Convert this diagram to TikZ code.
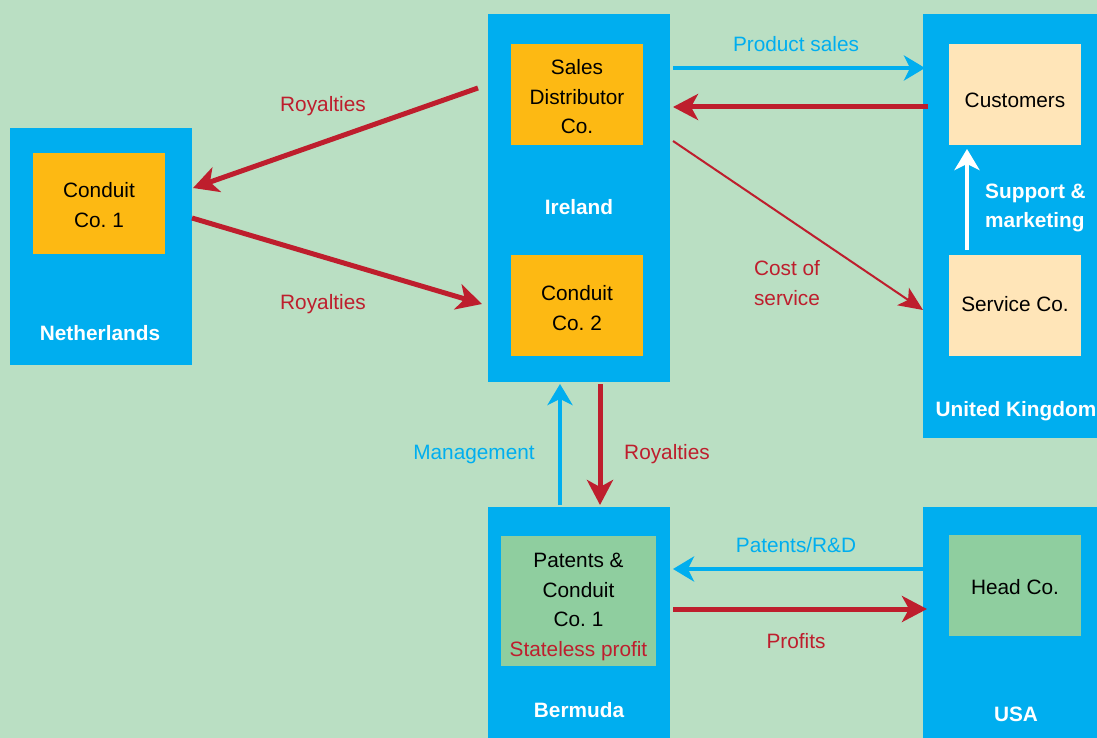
\documentclass[tikz,border=0pt]{standalone}
\usepackage{fontspec}
\setmainfont{Liberation Sans}
\usetikzlibrary{arrows.meta,calc}
\definecolor{bgreen}{HTML}{BADFC3}
\definecolor{cblue}{HTML}{00AEEF}
\definecolor{cred}{HTML}{BE1E2D}
\definecolor{corange}{HTML}{FDB913}
\definecolor{cpeach}{HTML}{FFE5B8}
\definecolor{cgreen}{HTML}{8FCE9F}
\newcommand{\txt}{\fontsize{20.8}{29.5}\selectfont}
% centred stack of lines, set a little below the box centre
\newcommand{\downby}[2]{\raisebox{-#1}[\height][\depth]{\begin{tabular}{@{}c@{}}#2\end{tabular}}}
\frenchspacing
\tikzset{
  country/.style={fill=cblue, inner sep=0pt, outer sep=0pt, anchor=north west},
  firm/.style={inner sep=0pt, outer sep=0pt, anchor=north west,
    minimum width=132pt, minimum height=101pt, font=\txt},
  cname/.style={text=white, font=\txt\bfseries, inner sep=0pt},
  redlbl/.style={text=cred, font=\txt, align=center, inner sep=0pt},
  bluelbl/.style={text=cblue, font=\txt, align=center, inner sep=0pt},
  redflow/.style={draw=cred, line width=5pt, -{Stealth[length=25pt,width=26pt,inset=7pt]}},
  blueflow/.style={draw=cblue, line width=4pt, -{Stealth[length=21pt,width=25pt,inset=6pt]}},
  thinflow/.style={draw=cred, line width=2pt, -{Stealth[length=24pt,width=21pt,inset=6pt]}},
  whiteflow/.style={draw=white, line width=4pt, -{Stealth[length=21pt,width=25pt,inset=6pt]}},
}
\begin{document}
\begin{tikzpicture}[x=1pt,y=-1pt]
\useasboundingbox (0,0) rectangle (1097,738);
\fill[bgreen] (0,0) rectangle (1097,738);

% countries
\node[country, minimum width=182pt, minimum height=237pt] (neth) at (10,128) {};
\node[country, minimum width=182pt, minimum height=368pt] (ire) at (488,14) {};
\node[country, minimum width=184pt, minimum height=424pt] (uk) at (923,14) {};
\node[country, minimum width=182pt, minimum height=243pt] (ber) at (488,507) {};
\node[country, minimum width=184pt, minimum height=243pt] (usa) at (923,507) {};

% companies
\node[firm, fill=corange] (cc1) at (33,153) {\downby{3pt}{Conduit\\Co. 1}};
\node[firm, fill=corange] (sdc) at (511,44) {\downby{4pt}{Sales\\Distributor\\Co.}};
\node[firm, fill=corange] (cc2) at (511,255) {\downby{4pt}{Conduit\\Co. 2}};
\node[firm, fill=cpeach] (cust) at (949,44) {\downby{7pt}{Customers}};
\node[firm, fill=cpeach] (serv) at (949,255) {\downby{0pt}{Service Co.}};
\node[firm, fill=cgreen, minimum width=155pt, minimum height=130pt] (pat) at (501,536)
  {\downby{5pt}{Patents \&\\Conduit\\Co. 1\\\textcolor{cred}{Stateless profit}}};
\node[firm, fill=cgreen] (head) at (949,535) {\downby{3pt}{Head Co.}};

% country names
\node[cname] (nethname) at (100,333) {Netherlands};
\node[cname] (irename) at (579,207) {Ireland};
\node[cname] (ukname) at (1016,411) {United Kingdom};
\node[cname] (bername) at (579,710) {Bermuda};
\node[cname] (usaname) at (1016,714) {USA};

% flows
\draw[redflow] ($(ire.north west)+(-10,74)$) -- ($(neth.north east)+(1,60)$);
\draw[redflow] ($(neth.north east)+(0,90)$) -- ($(ire.north west)+(-6,290)$);
\draw[blueflow] ($(ire.north east)+(3,54)$) -- ($(uk.north west)+(2,54)$);
\draw[redflow] ($(uk.north west)+(5,93)$) -- ($(ire.north east)+(3,93)$);
\draw[thinflow] ($(ire.north east)+(3,127)$) -- ($(uk.north west)+(0,296)$);
\draw[blueflow] ($(ber.north west)+(72,-2)$) -- ($(ire.south west)+(72,2)$);
\draw[redflow] ($(ire.south west)+(112,2)$) -- ($(ber.north west)+(112,-2)$);
\draw[blueflow] ($(usa.north west)+(0,62)$) -- ($(ber.north east)+(3,62)$);
\draw[redflow] ($(ber.north east)+(3,102)$) -- ($(usa.north west)+(4,102)$);
\draw[whiteflow] ($(serv.north west)+(18,-5)$) -- ($(cust.south west)+(18,4)$);

% flow labels
\node[redlbl] (l1) at (323,106) {Royalties};
\node[redlbl] (l2) at (323,304) {Royalties};
\node[bluelbl] (l3) at (796,44) {Product sales};
\node[redlbl] (l4) at (787,283) {Cost of\\service};
\node[bluelbl] (l5) at (474,454) {Management};
\node[redlbl] (l6) at (667,454) {Royalties};
\node[bluelbl] (l7) at (796,545) {Patents/R\&D};
\node[redlbl] (l8) at (796,641) {Profits};
\node[cname, align=left, anchor=west] (l9) at (985,208) {Support \&\\marketing};
\end{tikzpicture}
\end{document}
